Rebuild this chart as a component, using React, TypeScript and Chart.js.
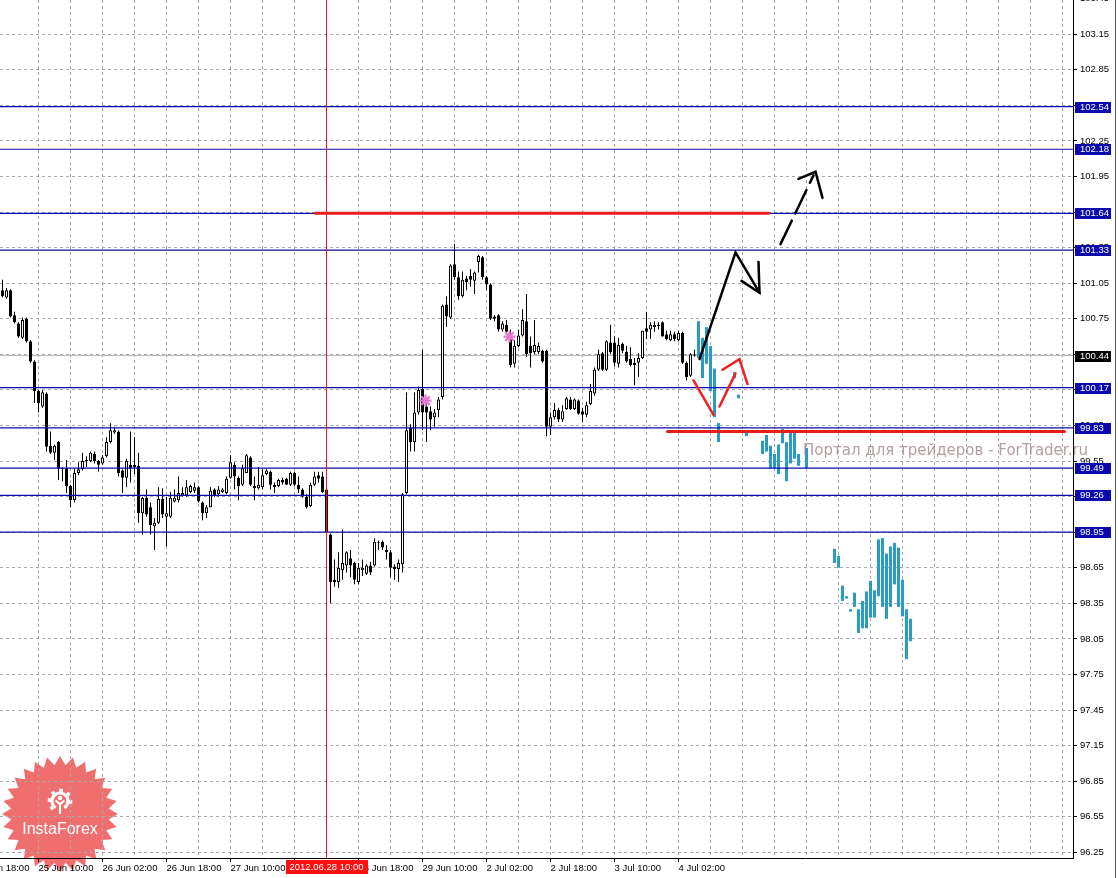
import React, { useEffect, useRef } from 'react';
import { Chart, registerables } from 'chart.js';
Chart.register(...registerables);

// ---- H1 candles (index 0 .. 173) ----
const opens = [
  100.99, 100.93, 100.99, 100.78, 100.71, 100.59, 100.75, 100.56, 100.39, 100.14,
  100.01, 100.12, 99.68, 99.62, 99.71, 99.49, 99.49, 99.34, 99.22, 99.45,
  99.48, 99.55, 99.55, 99.61, 99.55, 99.53, 99.59, 99.71, 99.79, 99.80,
  99.47, 99.41, 99.52, 99.52, 99.51, 99.11, 99.24, 99.16, 99.00, 99.03,
  99.23, 99.08, 99.08, 99.21, 99.22, 99.26, 99.26, 99.29, 99.30, 99.33,
  99.20, 99.11, 99.16, 99.31, 99.27, 99.29, 99.28, 99.41, 99.52, 99.41,
  99.35, 99.45, 99.58, 99.34, 99.32, 99.33, 99.44, 99.46, 99.35, 99.34,
  99.39, 99.40, 99.35, 99.45, 99.35, 99.31, 99.25, 99.17, 99.35, 99.43,
  99.42, 99.31, 98.93, 98.55, 98.53, 98.63, 98.67, 98.73, 98.69, 98.53,
  98.63, 98.60, 98.67, 98.67, 98.86, 98.87, 98.80, 98.78, 98.66, 98.64,
  98.68, 99.28, 99.83, 99.71, 99.96, 100.16, 100.01, 99.97, 99.92, 99.98,
  100.09, 100.87, 100.76, 101.21, 101.10, 100.94, 101.09, 101.11, 101.07, 101.23,
  101.27, 101.10, 101.04, 100.77, 100.78, 100.66, 100.70, 100.62, 100.37, 100.52,
  100.61, 100.73, 100.52, 100.47, 100.47, 100.48, 100.48, 99.84, 99.92, 99.98,
  99.90, 99.99, 100.07, 99.99, 100.06, 99.97, 99.94, 100.03, 100.12, 100.32,
  100.46, 100.32, 100.55, 100.55, 100.37, 100.54, 100.47, 100.41, 100.38, 100.38,
  100.42, 100.67, 100.66, 100.68, 100.70, 100.72, 100.62, 100.57, 100.62, 100.57,
  100.63, 100.38, 100.27, 100.45
];
const highs = [
  101.08, 101.01, 101.00, 100.81, 100.72, 100.76, 100.76, 100.57, 100.40, 100.15,
  100.15, 100.13, 99.80, 99.69, 99.72, 99.50, 99.56, 99.35, 99.48, 99.54,
  99.62, 99.59, 99.63, 99.63, 99.56, 99.60, 99.75, 99.87, 99.84, 99.81,
  99.48, 99.57, 99.80, 99.75, 99.62, 99.25, 99.31, 99.20, 99.07, 99.33,
  99.32, 99.25, 99.29, 99.31, 99.42, 99.33, 99.39, 99.35, 99.37, 99.34,
  99.21, 99.18, 99.33, 99.32, 99.34, 99.32, 99.42, 99.60, 99.54, 99.42,
  99.52, 99.61, 99.59, 99.42, 99.50, 99.48, 99.48, 99.47, 99.37, 99.40,
  99.41, 99.41, 99.46, 99.46, 99.42, 99.32, 99.27, 99.37, 99.46, 99.46,
  99.46, 99.34, 98.94, 98.72, 98.78, 98.97, 98.79, 98.80, 98.70, 98.69,
  98.72, 98.68, 98.70, 98.90, 98.88, 98.88, 98.84, 98.80, 98.68, 98.72,
  99.28, 100.13, 99.86, 100.13, 100.18, 100.49, 100.07, 100.01, 99.99, 100.09,
  100.87, 100.94, 101.21, 101.38, 101.15, 101.15, 101.11, 101.17, 101.15, 101.29,
  101.28, 101.11, 101.05, 100.78, 100.79, 100.73, 100.74, 100.66, 100.57, 100.66,
  100.83, 100.96, 100.60, 100.74, 100.55, 100.49, 100.49, 99.96, 100.04, 100.00,
  100.02, 100.09, 100.09, 100.08, 100.07, 100.00, 100.05, 100.20, 100.34, 100.49,
  100.47, 100.57, 100.70, 100.60, 100.59, 100.55, 100.52, 100.51, 100.42, 100.46,
  100.65, 100.81, 100.72, 100.73, 100.72, 100.73, 100.65, 100.65, 100.64, 100.65,
  100.64, 100.39, 100.46, 100.49
];
const lows = [
  100.93, 100.92, 100.76, 100.71, 100.59, 100.58, 100.55, 100.38, 100.04, 99.96,
  100.00, 99.63, 99.61, 99.56, 99.39, 99.38, 99.28, 99.16, 99.20, 99.43,
  99.47, 99.50, 99.54, 99.53, 99.46, 99.52, 99.58, 99.70, 99.78, 99.42,
  99.28, 99.33, 99.37, 99.44, 99.03, 98.93, 99.08, 98.93, 98.80, 99.02,
  99.07, 98.83, 99.07, 99.20, 99.20, 99.25, 99.25, 99.28, 99.28, 99.20,
  99.05, 99.07, 99.16, 99.25, 99.25, 99.28, 99.27, 99.40, 99.31, 99.22,
  99.34, 99.45, 99.34, 99.22, 99.31, 99.31, 99.43, 99.31, 99.28, 99.33,
  99.35, 99.35, 99.34, 99.34, 99.28, 99.24, 99.15, 99.16, 99.34, 99.37,
  99.28, 98.93, 98.35, 98.49, 98.48, 98.55, 98.61, 98.57, 98.51, 98.51,
  98.58, 98.59, 98.59, 98.66, 98.80, 98.80, 98.72, 98.57, 98.55, 98.53,
  98.61, 99.27, 99.63, 99.63, 99.94, 99.81, 99.71, 99.81, 99.84, 99.92,
  100.07, 100.68, 100.75, 101.08, 100.91, 100.93, 100.99, 101.02, 100.96, 101.14,
  101.08, 100.99, 100.74, 100.73, 100.64, 100.64, 100.62, 100.34, 100.34, 100.51,
  100.60, 100.43, 100.34, 100.45, 100.45, 100.38, 99.76, 99.77, 99.90, 99.88,
  99.88, 99.98, 99.98, 99.98, 99.94, 99.88, 99.92, 100.02, 100.10, 100.31,
  100.31, 100.31, 100.45, 100.35, 100.34, 100.46, 100.38, 100.35, 100.19, 100.26,
  100.41, 100.58, 100.58, 100.64, 100.66, 100.60, 100.57, 100.56, 100.56, 100.56,
  100.37, 100.23, 100.26, 100.43
];
const closes = [
  100.94, 100.99, 100.77, 100.72, 100.60, 100.74, 100.56, 100.39, 100.14, 100.04,
  100.13, 99.67, 99.62, 99.68, 99.49, 99.48, 99.34, 99.22, 99.45, 99.48,
  99.55, 99.56, 99.62, 99.55, 99.52, 99.58, 99.71, 99.81, 99.81, 99.45,
  99.41, 99.55, 99.49, 99.50, 99.11, 99.24, 99.10, 99.01, 99.03, 99.23,
  99.10, 99.11, 99.24, 99.24, 99.28, 99.28, 99.33, 99.34, 99.33, 99.21,
  99.11, 99.16, 99.30, 99.26, 99.31, 99.31, 99.40, 99.54, 99.42, 99.34,
  99.49, 99.60, 99.35, 99.32, 99.35, 99.43, 99.47, 99.35, 99.33, 99.39,
  99.37, 99.35, 99.45, 99.35, 99.31, 99.25, 99.16, 99.35, 99.42, 99.40,
  99.29, 98.95, 98.53, 98.53, 98.65, 98.69, 98.78, 98.67, 98.55, 98.65,
  98.65, 98.67, 98.61, 98.87, 98.87, 98.82, 98.78, 98.65, 98.64, 98.69,
  99.27, 99.81, 99.71, 99.96, 100.15, 99.96, 99.96, 99.90, 99.96, 100.07,
  100.86, 100.77, 101.20, 101.10, 100.94, 101.08, 101.06, 101.08, 101.14, 101.28,
  101.10, 101.04, 100.75, 100.75, 100.66, 100.71, 100.64, 100.36, 100.52, 100.61,
  100.74, 100.45, 100.46, 100.53, 100.52, 100.39, 99.84, 99.92, 99.98, 99.90,
  99.97, 100.08, 99.99, 100.07, 99.95, 99.94, 100.02, 100.14, 100.32, 100.45,
  100.32, 100.56, 100.47, 100.38, 100.53, 100.48, 100.39, 100.36, 100.36, 100.42,
  100.65, 100.64, 100.70, 100.70, 100.69, 100.60, 100.58, 100.62, 100.58, 100.63,
  100.38, 100.26, 100.45, 100.44
];

// ---- projection bars (cyan) ----
const projIndex = [174, 175, 176, 177, 178, 179, 183, 184, 186, 190, 191, 192, 193, 194, 195, 196, 197, 198, 199, 201,
  208, 209, 210, 211, 212, 213, 214, 215, 216, 217, 218, 219, 220, 221, 222, 223, 224, 225, 226, 227];
const projHigh = [100.73, 100.59, 100.68, 100.52, 100.33, 99.87, 100.30, 100.11, 99.79, 99.72, 99.77, 99.68, 99.61, 99.69, 99.82, 99.71, 99.81, 99.81, 99.61, 99.66,
  98.81, 98.75, 98.50, 98.41, 98.30, 98.44, 98.30, 98.37, 98.45, 98.54, 98.46, 98.89, 98.90, 98.77, 98.83, 98.86, 98.82, 98.55, 98.30, 98.22];
const projLow = [100.42, 100.25, 100.37, 100.14, 99.92, 99.71, 100.25, 100.08, 99.76, 99.61, 99.63, 99.49, 99.49, 99.44, 99.70, 99.38, 99.53, 99.57, 99.51, 99.49,
  98.69, 98.65, 98.37, 98.39, 98.28, 98.32, 98.10, 98.14, 98.14, 98.23, 98.23, 98.41, 98.32, 98.22, 98.32, 98.51, 98.32, 98.24, 97.88, 98.03];

// ---- horizontal levels ----
const levelPrices = [102.54, 102.18, 101.64, 101.33, 100.17, 99.83, 99.49, 99.26, 98.95];
const levelLabels = ['102.54', '102.18', '101.64', '101.33', '100.17', '99.83', '99.49', '99.26', '98.95'];
const bidPrice = 100.44;
const bidLabel = '100.44';

// ---- thick red segments ----
const redSeg1X = [78.25, 191.5];
const redSeg1Y = [101.64, 101.64];
const redSeg2X = [166.25, 265.5];
const redSeg2Y = [99.80, 99.80];

// ---- hand-drawn arrows ----
const blackPathX = [174.25, 183.25, 189.25];
const blackPathY = [100.41, 101.31, 100.97];
const blackHead1X = [189.0, 189.25, 184.75];
const blackHead1Y = [101.23, 100.97, 101.07];
const blackDashX = [194.5, 202.75];
const blackDashY = [101.38, 101.96];
const blackHead2X = [199.0, 203.25, 205.0];
const blackHead2Y = [101.93, 101.99, 101.77];
const redAX = [172.75, 177.75];
const redAY = [100.23, 99.94];
const redBX = [179.25, 183.25];
const redBY = [100.01, 100.29];
const redHeadX = [180.0, 184.25, 186.25];
const redHeadY = [100.32, 100.41, 100.20];

// ---- star markers ----
const starX = [105.75, 126.75];
const starY = [100.06, 100.60];

// ---- axes ----
const yTickLabels = ['96.25', '96.55', '96.85', '97.15', '97.45', '97.75', '98.05', '98.35', '98.65', '98.95', '99.25', '99.55',
  '99.85', '100.15', '100.45', '100.75', '101.05', '101.35', '101.65', '101.95', '102.25', '102.55', '102.85', '103.15', '103.45'];
const xTickIndex = [-7, 9, 25, 41, 57, 73, 89, 105, 121, 137, 153, 169];
const xTickLabels = ['24 Jun 18:00', '25 Jun 10:00', '26 Jun 02:00', '26 Jun 18:00', '27 Jun 10:00', '28 Jun 02:00',
  '28 Jun 18:00', '29 Jun 10:00', '2 Jul 02:00', '2 Jul 18:00', '3 Jul 10:00', '4 Jul 02:00'];
const markerIndex = 81;
const markerLabel = '2012.06.28 10:00';
const watermark = 'Портал для трейдеров - ForTrader.ru';

const X_MIN = -0.625;
const X_MAX = 267.625;
const Y_MIN = 96.202;
const Y_MAX = 103.439;

const FONT = "'Liberation Sans', Arial, sans-serif";
const LEVEL_BLUE = '#0a0aae';
const GRID = '#a2aca8';

export default function App() {
  const ref = useRef<HTMLCanvasElement>(null);

  useEffect(() => {
    document.body.style.margin = '0';
    const canvas = ref.current;
    if (!canvas) return;

    const seg = (xs: number[], ys: number[], color: string, width: number, order: number, dash: number[] = []) => ({
      type: 'line' as const,
      data: xs.map((x, k) => ({ x, y: ys[k] })),
      borderColor: color,
      borderWidth: width,
      borderDash: dash,
      pointRadius: 0,
      fill: false,
      tension: 0,
      order,
      borderCapStyle: 'round' as const,
    });

    const bodyData = opens.map((o, i) => ({ x: i, y: [o, closes[i]] }));
    const bodyColors = opens.map((o, i) => (closes[i] >= o ? '#ffffff' : '#000000'));
    const wickData = lows.map((l, i) => ({ x: i, y: [l, highs[i]] }));
    const projData = projIndex.map((x, k) => ({ x, y: [projLow[k], projHigh[k]] }));

    const xGridIndex: number[] = [-7];
    for (let v = 9; v <= 265; v += 8) xGridIndex.push(v);

    const datasets: any[] = [];
    levelPrices.forEach((p) => datasets.push(seg([X_MIN, X_MAX], [p, p], LEVEL_BLUE, 1.2, 1)));
    datasets.push(seg([X_MIN, X_MAX], [bidPrice, bidPrice], '#bcb4c2', 1, 6));
    datasets.push(seg(redSeg1X, redSeg1Y, '#e81e1e', 3, 0));
    datasets.push(seg(redSeg2X, redSeg2Y, '#e81e1e', 3, 0));
    datasets.push(seg([markerIndex, markerIndex], [Y_MIN, Y_MAX], '#ff1010', 1, 0));
    datasets.push(seg(blackPathX, blackPathY, '#000', 2.5, 0));
    datasets.push(seg(blackHead1X, blackHead1Y, '#000', 2.5, 0));
    datasets.push(seg(blackDashX, blackDashY, '#000', 2.5, 0, [26, 8]));
    datasets.push(seg(blackHead2X, blackHead2Y, '#000', 2.5, 0));
    datasets.push(seg(redAX, redAY, '#ee2020', 2.5, 0));
    datasets.push(seg(redBX, redBY, '#ee2020', 2.5, 0));
    datasets.push(seg(redHeadX, redHeadY, '#ee2020', 2.5, 0));
    datasets.push({
      type: 'line',
      data: starX.map((x, k) => ({ x, y: starY[k] })),
      showLine: false,
      pointStyle: 'star',
      pointRadius: 6,
      pointBorderColor: '#e47ad0',
      pointBorderWidth: 2.2,
      pointBackgroundColor: '#f2b0e6',
      order: 0,
    });
    datasets.push({
      type: 'bar',
      data: bodyData,
      backgroundColor: bodyColors,
      borderColor: '#000',
      borderWidth: 1,
      borderSkipped: false,
      grouped: false,
      barPercentage: 1,
      categoryPercentage: 1,
      maxBarThickness: 3,
      minBarLength: 1,
      inflateAmount: 0,
      order: 4,
    });
    datasets.push({
      type: 'bar',
      data: projData,
      backgroundColor: '#2b9bc4',
      borderWidth: 0,
      grouped: false,
      barPercentage: 1,
      categoryPercentage: 1,
      maxBarThickness: 3,
      minBarLength: 2,
      inflateAmount: 0,
      order: 4,
    });
    datasets.push({
      type: 'bar',
      data: wickData,
      backgroundColor: '#000',
      borderWidth: 0,
      grouped: false,
      barPercentage: 1,
      categoryPercentage: 1,
      maxBarThickness: 1,
      inflateAmount: 0,
      order: 5,
    });

    const decor = {
      id: 'decor',
      beforeDraw(chart: any) {
        const ctx = chart.ctx;
        ctx.save();
        // InstaForex badge
        const cx = 60, cy = 814, ro = 58, ri = 49, n = 28;
        ctx.beginPath();
        for (let k = 0; k <= 2 * n; k++) {
          const r = k % 2 === 0 ? ro : ri;
          const a = -Math.PI / 2 + (k * Math.PI) / n;
          const px = cx + r * Math.cos(a);
          const py = cy + r * Math.sin(a);
          if (k === 0) ctx.moveTo(px, py); else ctx.lineTo(px, py);
        }
        ctx.closePath();
        ctx.fillStyle = 'rgba(233,56,56,0.72)';
        ctx.fill();
        // gear
        const gx = 60, gy = 801;
        ctx.strokeStyle = '#fff';
        ctx.fillStyle = '#fff';
        ctx.lineWidth = 3.2;
        ctx.beginPath();
        ctx.arc(gx, gy, 8, 0.68 * Math.PI, 2.32 * Math.PI);
        ctx.stroke();
        for (let a = 0.78 * Math.PI; a <= 2.23 * Math.PI; a += Math.PI / 4) {
          ctx.save();
          ctx.translate(gx + 10.5 * Math.cos(a), gy + 10.5 * Math.sin(a));
          ctx.rotate(a);
          ctx.fillRect(-1.8, -1.8, 3.6, 3.6);
          ctx.restore();
        }
        ctx.beginPath();
        ctx.arc(gx, gy - 3, 2.2, 0, Math.PI * 2);
        ctx.fill();
        ctx.lineWidth = 2.2;
        ctx.beginPath();
        ctx.moveTo(gx - 4.5, gy - 0.5);
        ctx.lineTo(gx, gy + 3);
        ctx.lineTo(gx + 4.5, gy - 0.5);
        ctx.moveTo(gx, gy + 3);
        ctx.lineTo(gx, gy + 13);
        ctx.stroke();
        ctx.font = "16px 'Liberation Sans', Arial, sans-serif";
        ctx.textAlign = 'center';
        ctx.textBaseline = 'middle';
        ctx.fillText('InstaForex', cx, 830);
        ctx.restore();
      },
      afterDraw(chart: any) {
        const ctx = chart.ctx;
        const ys = chart.scales.y;
        const xs = chart.scales.x;
        const area = chart.chartArea;
        ctx.save();
        // right frame
        ctx.fillStyle = '#5a5a5a';
        ctx.fillRect(1115, 0, 1, 878);
        // watermark
        ctx.font = "15px 'DejaVu Sans', sans-serif";
        ctx.fillStyle = 'rgba(150,122,122,0.72)';
        ctx.textAlign = 'left';
        ctx.textBaseline = 'alphabetic';
        ctx.fillText(watermark, 803, 455);
        // level boxes
        ctx.font = '9.5px ' + FONT;
        ctx.textBaseline = 'middle';
        const box = (price: number, label: string, bg: string) => {
          const y = Math.round(ys.getPixelForValue(price));
          ctx.fillStyle = bg;
          ctx.fillRect(area.right + 2, y - 5, 36, 11);
          ctx.fillStyle = '#fff';
          ctx.fillText(label, area.right + 7, y + 0.5);
        };
        levelPrices.forEach((p, k) => box(p, levelLabels[k], LEVEL_BLUE));
        box(bidPrice, bidLabel, '#000');
        // time marker label
        const mx = xs.getPixelForValue(markerIndex);
        const w = ctx.measureText(markerLabel).width + 8;
        ctx.fillStyle = '#ff1010';
        ctx.fillRect(Math.round(mx - w / 2), area.bottom + 2, Math.round(w), 14);
        ctx.fillStyle = '#fff';
        ctx.textAlign = 'center';
        ctx.fillText(markerLabel, mx, area.bottom + 9.5);
        ctx.restore();
      },
    };

    const chart = new Chart(canvas, {
      type: 'bar',
      data: { datasets },
      options: {
        animation: false,
        responsive: false,
        devicePixelRatio: 1,
        layout: { padding: 0, autoPadding: false },
        plugins: { legend: { display: false }, tooltip: { enabled: false } },
        events: [],
        scales: {
          x: {
            type: 'linear',
            min: X_MIN,
            max: X_MAX,
            offset: false,
            afterBuildTicks: (s: any) => {
              s.ticks = xGridIndex.map((v) => ({ value: v }));
            },
            afterFit: (s: any) => {
              s.height = 20;
              s.paddingLeft = 0;
              s.paddingRight = 0;
            },
            ticks: {
              autoSkip: false,
              maxRotation: 0,
              minRotation: 0,
              align: 'start',
              padding: 1,
              color: '#000',
              font: { family: FONT, size: 9.5 },
              callback: (v: any) => {
                const k = xTickIndex.indexOf(Number(v));
                return k >= 0 ? xTickLabels[k] : '';
              },
            },
            grid: {
              color: GRID,
              offset: false,
              tickLength: 4,
              tickColor: (c: any) => (c.tick && xTickIndex.indexOf(c.tick.value) >= 0 ? '#000' : 'rgba(0,0,0,0)'),
            },
            border: { display: true, color: '#000', width: 1, dash: [3, 3] },
          },
          y: {
            type: 'linear',
            position: 'right',
            min: Y_MIN,
            max: Y_MAX,
            afterBuildTicks: (s: any) => {
              s.ticks = yTickLabels.map((t) => ({ value: parseFloat(t) }));
            },
            afterFit: (s: any) => {
              s.width = 45;
              s.paddingTop = 0;
              s.paddingBottom = 0;
            },
            ticks: {
              autoSkip: false,
              padding: 3,
              color: '#000',
              font: { family: FONT, size: 9.5 },
              callback: (_v: any, i: number) => yTickLabels[i],
            },
            grid: { color: GRID, tickLength: 4, tickColor: '#000' },
            border: { display: true, color: '#000', width: 1, dash: [3, 3] },
          },
        },
      },
      plugins: [decor],
    } as any);

    return () => chart.destroy();
  }, []);

  return (
    <div style={{ width: 1118, height: 878, background: '#fff' }}>
      <canvas ref={ref} width={1118} height={878} style={{ display: 'block' }} />
    </div>
  );
}
